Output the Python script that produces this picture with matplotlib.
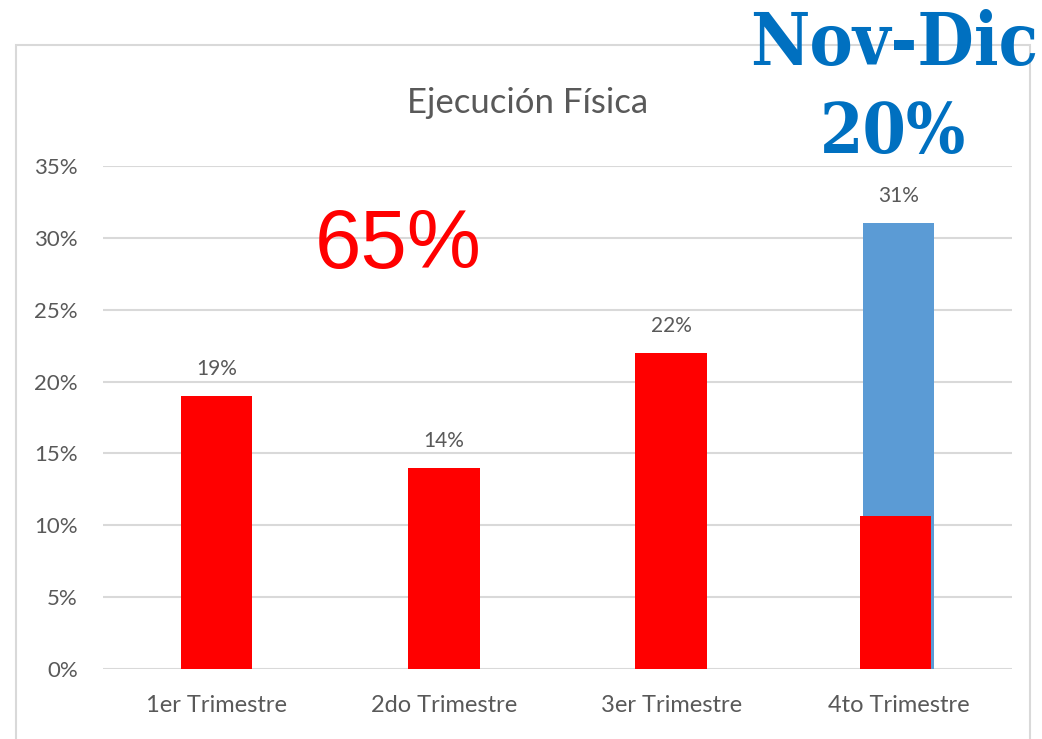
import matplotlib
matplotlib.use("Agg")
import matplotlib.pyplot as plt
from matplotlib.patches import Rectangle

categories = ["1er Trimestre", "2do Trimestre", "3er Trimestre", "4to Trimestre"]
values = [0.19, 0.14, 0.22, 0.31]
value_labels = ["19%", "14%", "22%", "31%"]
overlay_value = 0.1065  # red portion of 4th bar
yticks = [0, 0.05, 0.10, 0.15, 0.20, 0.25, 0.30, 0.35]
ytick_labels = ["0%", "5%", "10%", "15%", "20%", "25%", "30%", "35%"]
title = "Ejecución Física"
big_total = "65%"
nov_dic_label = "Nov-Dic"
nov_dic_value = "20%"

W, H = 1042, 739
fig = plt.figure(figsize=(W / 100, H / 100), dpi=100)
fig.patch.set_facecolor("white")

# outer chart border
fig.add_artist(Rectangle((16 / W, -0.01), (1030 - 16) / W, (H - 45) / H + 0.01,
                         transform=fig.transFigure, fill=False,
                         edgecolor="#D9D9D9", linewidth=1.5))

ax = fig.add_axes([103 / W, 1 - 669 / H, (1012 - 103) / W, (669 - 166) / H])
ax.set_xlim(-0.5, 3.5)
ax.set_ylim(0, 0.35)

x = list(range(len(categories)))
colors = ["#FF0000", "#FF0000", "#FF0000", "#5B9BD5"]
bw = 0.315
ax.bar(x, values, width=bw, color=colors, zorder=3)
ax.bar([3 - 0.012], [overlay_value], width=bw, color="#FF0000", zorder=4)

font = "Lato"
gray = "#595959"
for xi, v, lab in zip(x, values, value_labels):
    ax.text(xi, v + 0.012, lab, ha="center", va="bottom", fontsize=15,
            color=gray, family=font)

ax.set_yticks(yticks)
ax.set_yticklabels(ytick_labels, fontsize=16, color=gray, family=font)
ax.set_xticks(x)
ax.set_xticklabels(categories, fontsize=17, color=gray, family=font)
ax.tick_params(axis="both", length=0)
ax.tick_params(axis="y", pad=18)
ax.tick_params(axis="x", pad=19)
ax.grid(axis="y", color="#D9D9D9", linewidth=1.5, zorder=0)
ax.set_axisbelow(True)
for s in ax.spines.values():
    s.set_visible(False)

fig.text(528 / W, 1 - 103 / H, title, ha="center", va="center", fontsize=25,
         color=gray, family=font)
fig.text(398 / W, 1 - 246 / H, big_total, ha="center", va="center", fontsize=60,
         color="#FF0000", family="Liberation Sans")
fig.text(894 / W, 1 - 45 / H, nov_dic_label, ha="center", va="center", fontsize=52,
         color="#0070C0", family="DejaVu Serif", weight="bold", stretch="condensed")
fig.text(893 / W, 1 - 134 / H, nov_dic_value, ha="center", va="center", fontsize=50,
         color="#0070C0", family="DejaVu Serif", weight="bold", stretch="condensed")

fig.savefig("out.png", dpi=100, facecolor="white")
